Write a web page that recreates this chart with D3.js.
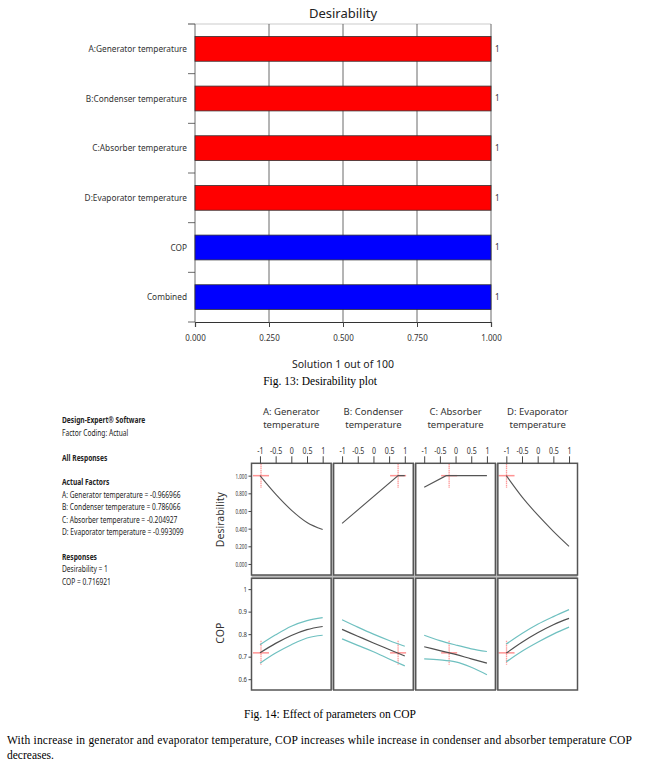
<!DOCTYPE html>
<html><head><meta charset="utf-8">
<script src="https://cdnjs.cloudflare.com/ajax/libs/d3/7.8.5/d3.min.js"></script>
<style>body{margin:0;background:#fff}svg{display:block}</style>
</head><body><svg id="c" width="648" height="770"></svg>
<script>
// ---------------- DATA ----------------
const categories = ["A:Generator temperature","B:Condenser temperature","C:Absorber temperature","D:Evaporator temperature","COP","Combined"];
const desirabilityValues = [1,1,1,1,1,1];
const categoryKind = ["factor","factor","factor","factor","response","response"];
const desirabilityTicks = [0,0.25,0.5,0.75,1];
const chartTitle = "Desirability";
const solutionLabel = "Solution 1 out of 100";
const fig13Caption = "Fig. 13: Desirability plot";

const factorNames = ["A: Generator temperature","B: Condenser temperature","C: Absorber temperature","D: Evaporator temperature"];
const factorSettings = [-0.966966, 0.786066, -0.204927, -0.993099];
const codedTicks = [-1,-0.5,0,0.5,1];
const desirAxisTicks = [0,0.2,0.4,0.6,0.8,1];
const copAxisTicks = [0.6,0.7,0.8,0.9,1];
const solutionDesirability = 1;
const solutionCOP = 0.716921;

const desirCurveX = [[-1,-0.5,0,0.5,1],[-1,0.786,1],[-1,-0.3,1],[-1,-0.5,0,0.5,1]];
const desirCurveY = [[1.0,0.79,0.61,0.47,0.39],[0.46,1.0,1.0],[0.868,1.0,1.0],[1.0,0.76,0.555,0.37,0.20]];

const copX = [-1,-0.5,0,0.5,1];
const copMean  = [[0.717,0.759,0.794,0.820,0.834],[0.821,0.791,0.761,0.732,0.703],[0.744,0.727,0.710,0.690,0.671],[0.716,0.764,0.806,0.842,0.870]];
const copUpper = [[0.753,0.797,0.835,0.860,0.873],[0.864,0.831,0.800,0.772,0.746],[0.795,0.771,0.752,0.735,0.723],[0.756,0.803,0.844,0.878,0.909]];
const copLower = [[0.671,0.716,0.753,0.783,0.795],[0.779,0.750,0.722,0.690,0.659],[0.690,0.686,0.677,0.653,0.620],[0.677,0.724,0.764,0.800,0.831]];

const infoHeadings = ["Design-Expert® Software","All Responses","Actual Factors","Responses"];
const infoFactorCoding = "Factor Coding: Actual";
const fig14Caption = "Fig. 14: Effect of parameters on COP";
const paragraphLines = ["With increase in generator and evaporator temperature, COP increases while increase in condenser and absorber temperature COP","decreases."];

// ---------------- HELPERS ----------------
const sans = "'Noto Sans','Open Sans',sans-serif";
const serif = "'Liberation Serif','DejaVu Serif',serif";
function condense(sel, f){
  sel.each(function(){
    const L = this.getComputedTextLength();
    this.setAttribute("textLength", L*f);
    this.setAttribute("lengthAdjust","spacingAndGlyphs");
  });
}
const svg = d3.select("#c");
svg.append("rect").attr("width",648).attr("height",770).attr("fill","#fff");

// ---------------- FIG 13 ----------------
const x1 = d3.scaleLinear().domain([0,1]).range([195,491]);
const y1 = d3.scaleBand().domain(categories).range([24,322]).paddingInner(0.5).paddingOuter(0.25);
const g1 = svg.append("g");
const top1 = y1.range()[0], bot1 = y1.range()[1];

g1.append("line").attr("x1",188).attr("x2",x1(1)).attr("y1",top1).attr("y2",top1)
  .attr("stroke","#aaa").attr("stroke-width",0.6);
g1.selectAll("line.grid").data(desirabilityTicks).join("line").attr("class","grid")
  .attr("x1",d=>x1(d)).attr("x2",d=>x1(d)).attr("y1",top1).attr("y2",bot1)
  .attr("stroke","#444").attr("stroke-width",0.8);
const boundaries = categories.map(c=>y1(c)-y1.step()*y1.paddingInner()/2).concat([bot1]);
g1.selectAll("line.bt").data(boundaries).join("line").attr("class","bt")
  .attr("x1",188).attr("x2",x1(0)).attr("y1",d=>d).attr("y2",d=>d)
  .attr("stroke","#444").attr("stroke-width",0.8);

g1.selectAll("rect.bar").data(categories).join("rect").attr("class","bar")
  .attr("x",x1(0)).attr("y",d=>y1(d))
  .attr("width",(d,i)=>x1(desirabilityValues[i])-x1(0)).attr("height",y1.bandwidth())
  .attr("fill",(d,i)=>categoryKind[i]==="factor"?"#ff0000":"#0000ff")
  .attr("stroke","#333").attr("stroke-width",0.8);

const xa = g1.append("g").attr("transform",`translate(0,${bot1})`)
  .call(d3.axisBottom(x1).tickValues(desirabilityTicks).tickFormat(d3.format(".3f")).tickSize(5).tickPadding(8));
xa.select(".domain").attr("stroke","#333").attr("stroke-width",1.2);
xa.selectAll(".tick line").attr("stroke","#444");
xa.selectAll("text").attr("font-family",sans).attr("font-size",8).attr("fill","#333");

const lab = g1.selectAll("text.cat").data(categories).join("text").attr("class","cat")
  .attr("x",187).attr("y",d=>y1(d)+y1.bandwidth()/2).attr("dy","0.35em")
  .attr("text-anchor","end").attr("font-family",sans).attr("font-size",9).attr("fill","#333").text(d=>d);
condense(lab,0.92);
g1.selectAll("text.val").data(categories).join("text").attr("class","val")
  .attr("x",(d,i)=>x1(desirabilityValues[i])+4).attr("y",d=>y1(d)+y1.bandwidth()/2).attr("dy","0.35em")
  .attr("font-family",sans).attr("font-size",8).attr("fill","#333").text((d,i)=>d3.format("")(desirabilityValues[i]));

g1.append("text").attr("x",(x1(0)+x1(1))/2).attr("y",13).attr("dy","0.35em").attr("text-anchor","middle")
  .attr("font-family",sans).attr("font-size",13).attr("fill","#222").text(chartTitle);
g1.append("text").attr("x",(x1(0)+x1(1))/2).attr("y",364).attr("dy","0.35em").attr("text-anchor","middle")
  .attr("font-family",sans).attr("font-size",10.5).attr("fill","#222").text(solutionLabel);
g1.append("text").attr("x",320).attr("y",381).attr("dy","0.35em").attr("text-anchor","middle")
  .attr("font-family",serif).attr("font-size",11.5).attr("fill","#000").text(fig13Caption);

// ---------------- FIG 14 ----------------
const g2 = svg.append("g");
// info block
const infoLines = [
  {t:infoHeadings[0],b:true},{t:infoFactorCoding,b:false},{t:"",b:false},
  {t:infoHeadings[1],b:true},{t:"",b:false},
  {t:infoHeadings[2],b:true}
].concat(factorNames.map((f,i)=>({t:`${f} = ${factorSettings[i]}`,b:false})))
 .concat([{t:"",b:false},{t:infoHeadings[3],b:true},{t:`Desirability = ${solutionDesirability}`,b:false},{t:`COP = ${solutionCOP}`,b:false}]);
const info = g2.selectAll("text.info").data(infoLines.map((d,i)=>Object.assign({},d,{i})).filter(d=>d.t!=="")).join("text")
  .attr("class","info").attr("x",62).attr("y",d=>420.5+d.i*12.4).attr("dy","0.35em")
  .attr("font-family",sans).attr("font-size",8).attr("font-weight",d=>d.b?"bold":"normal")
  .attr("fill","#222").text(d=>d.t);
condense(info,0.83);

const px = d3.scaleBand().domain(factorNames).range([251.5,577.5]).paddingInner(0.03);
const yD = d3.scaleLinear().domain([-0.125,1.14]).range([575,463.3]);
const yC = d3.scaleLinear().domain([0.552,1.048]).range([690,578.3]);

// gap background
g2.append("rect").attr("x",px.range()[0]).attr("y",yD.range()[1]).attr("width",px.range()[1]-px.range()[0])
  .attr("height",yC.range()[0]-yD.range()[1]).attr("fill","#bdbdbd");

factorNames.forEach((f,i)=>{
  const xs = d3.scaleLinear().domain([-1.27,1.27]).range([px(f),px(f)+px.bandwidth()]);
  const pg = g2.append("g");
  [[yD,solutionDesirability],[yC,solutionCOP]].forEach(([ys,v])=>{
    pg.append("rect").attr("x",px(f)).attr("y",ys.range()[1]).attr("width",px.bandwidth())
      .attr("height",ys.range()[0]-ys.range()[1]).attr("fill","#fff");
    // crosshair
    const cx = xs(factorSettings[i]), cy = ys(v);
    pg.append("line").attr("x1",Math.max(cx-8,px(f))).attr("x2",cx+8).attr("y1",cy).attr("y2",cy)
      .attr("stroke","#ff7070").attr("stroke-opacity",0.75).attr("stroke-width",1.5);
    pg.append("line").attr("x1",cx).attr("x2",cx).attr("y1",Math.max(cy-12,ys.range()[1])).attr("y2",cy+12)
      .attr("stroke","#ff7070").attr("stroke-opacity",0.7).attr("stroke-width",1.3).attr("stroke-dasharray","1.5,0.6");
  });
  // desirability curve
  const dpts = desirCurveX[i].map((x,k)=>[x,desirCurveY[i][k]]);
  pg.append("path").datum(dpts)
    .attr("d",d3.line().x(d=>xs(d[0])).y(d=>yD(d[1])).curve(dpts.length>3?d3.curveMonotoneX:d3.curveLinear))
    .attr("fill","none").attr("stroke","#555").attr("stroke-width",1.1);
  // COP curves
  const cl = d3.line().x(d=>xs(d[0])).y(d=>yC(d[1])).curve(d3.curveMonotoneX);
  [[copUpper,"#6fc0c0"],[copLower,"#6fc0c0"],[copMean,"#505050"]].forEach(([arr,col])=>{
    pg.append("path").datum(copX.map((x,k)=>[x,arr[i][k]])).attr("d",cl)
      .attr("fill","none").attr("stroke",col).attr("stroke-width",1.2);
  });
  // borders
  [yD,yC].forEach(ys=>{
    pg.append("rect").attr("x",px(f)).attr("y",ys.range()[1]).attr("width",px.bandwidth())
      .attr("height",ys.range()[0]-ys.range()[1]).attr("fill","none").attr("stroke","#555").attr("stroke-width",1.5);
  });
  // top axis
  const ta = pg.append("g").attr("transform",`translate(0,${yD.range()[1]})`)
    .call(d3.axisTop(xs).tickValues(codedTicks).tickFormat(d=>String(d)).tickSize(7).tickPadding(2));
  ta.select(".domain").remove();
  ta.selectAll(".tick line").attr("stroke","#444");
  const tt = ta.selectAll("text").attr("font-family",sans).attr("font-size",8).attr("fill","#333");
  condense(tt,0.88);
  // column title, wrapped onto two separate lines so it stays within its own panel
  const parts = f.split(" ");
  const lines = [parts.slice(0,-1).join(" "), parts[parts.length-1]];
  pg.selectAll("text.ctitle").data(lines).join("text").attr("class","ctitle")
    .attr("x",px(f)+px.bandwidth()/2).attr("y",(d,k)=>412+k*13).attr("dy","0.35em")
    .attr("text-anchor","middle").attr("font-family",sans).attr("font-size",9.5).attr("fill","#333").text(d=>d);
});

// left axes
const ay1 = g2.append("g").attr("transform",`translate(${px.range()[0]},0)`)
  .call(d3.axisLeft(yD).tickValues(desirAxisTicks).tickFormat(d3.format(".3f")).tickSize(3).tickPadding(1.5));
ay1.select(".domain").remove();
ay1.selectAll(".tick line").attr("stroke","#444");
condense(ay1.selectAll("text").attr("font-family",sans).attr("font-size",7.5).attr("fill","#333"),0.6);
const ay2 = g2.append("g").attr("transform",`translate(${px.range()[0]},0)`)
  .call(d3.axisLeft(yC).tickValues(copAxisTicks).tickFormat(d=>String(d)).tickSize(3).tickPadding(1.5));
ay2.select(".domain").remove();
ay2.selectAll(".tick line").attr("stroke","#444");
condense(ay2.selectAll("text").attr("font-family",sans).attr("font-size",7).attr("fill","#333"),0.85);

g2.append("text").attr("transform",`translate(220,${(yD.range()[0]+yD.range()[1])/2+0.5}) rotate(-90)`)
  .attr("text-anchor","middle").attr("dy","0.35em").attr("font-family",sans).attr("font-size",10.5).attr("fill","#333").text("Desirability");
g2.append("text").attr("transform",`translate(220.5,${(yC.range()[0]+yC.range()[1])/2-1}) rotate(-90)`)
  .attr("text-anchor","middle").attr("dy","0.35em").attr("font-family",sans).attr("font-size",10.5).attr("fill","#333").text("COP");

// captions
svg.append("text").attr("x",330).attr("y",714).attr("dy","0.35em").attr("text-anchor","middle")
  .attr("font-family",serif).attr("font-size",11.5).attr("fill","#000").text(fig14Caption);
svg.append("text").attr("x",7).attr("y",740).attr("dy","0.35em")
  .attr("font-family",serif).attr("font-size",11.5).attr("fill","#000")
  .attr("textLength",625).attr("lengthAdjust","spacing").text(paragraphLines[0]);
svg.append("text").attr("x",7).attr("y",755).attr("dy","0.35em")
  .attr("font-family",serif).attr("font-size",11.5).attr("fill","#000").text(paragraphLines[1]);
</script></body></html>
